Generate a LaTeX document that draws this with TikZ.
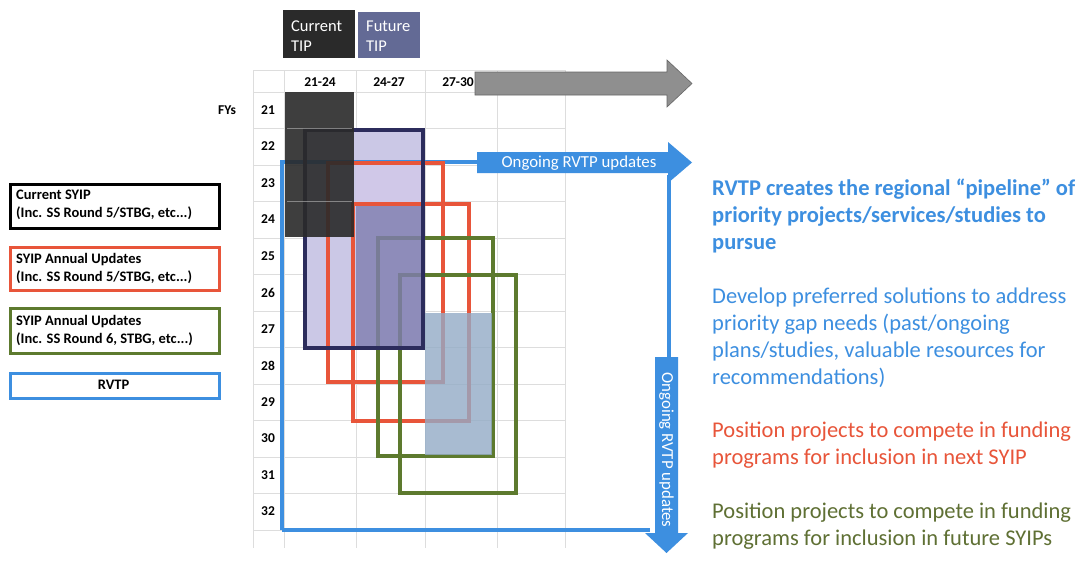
\documentclass[tikz,border=0pt]{standalone}
\usepackage{fontspec}
\setmainfont{Carlito}
\definecolor{gridc}{HTML}{DDDDDD}
\definecolor{darkc}{HTML}{2A2A2A}
\definecolor{futc}{HTML}{636A95}
\definecolor{navyc}{HTML}{2C2C5C}
\definecolor{lavc}{HTML}{CBC8E6}
\definecolor{lavb}{HTML}{D0C8E8}
\definecolor{purc}{HTML}{7F7DB0}
\definecolor{redc}{HTML}{E8553A}
\definecolor{greenc}{HTML}{5D7A2E}
\definecolor{steelc}{HTML}{93ABC6}
\definecolor{bluec}{HTML}{3D8FE0}
\definecolor{grayc}{HTML}{8F8F8F}
\definecolor{greentxt}{HTML}{5F7034}
\tikzset{
  gridline/.style={draw=gridc, line width=0.7pt},
  redbox/.style={draw=redc, line width=3.2pt},
  greenbox/.style={draw=greenc, line width=3.2pt},
  bluepath/.style={draw=bluec, line width=3.2pt},
  legendbox/.style={line width=2.8pt, fill=white, minimum width=209pt, inner sep=0pt, anchor=north west},
  legtext/.style={font=\bfseries\fontsize{14.5}{18}\selectfont, align=left, anchor=north west, inner sep=0pt},
  axislab/.style={font=\bfseries\fontsize{13.5}{14}\selectfont, inner sep=0pt},
  bodytext/.style={font=\fontsize{22.5}{27}\selectfont, align=left, anchor=north west, inner sep=0pt},
  tiptext/.style={font=\fontsize{16.5}{20}\selectfont, text=white, align=left, anchor=north west, inner sep=0pt},
  arrowtext/.style={font=\fontsize{16.8}{18}\selectfont, text=white, inner sep=0pt},
}
\begin{document}
\begin{tikzpicture}[x=1pt,y=-1pt]
\useasboundingbox (0,0) rectangle (1083,565);
\fill[white] (0,0) rectangle (1083,565);

% grid
\foreach \y in {70,92,128.5,165,201.5,238,274.5,311,347.5,384,420.5,457,493.5,530}
  \draw[gridline] (253,\y) -- (565,\y);
\foreach \x in {253,284,356,425,497,565}
  \draw[gridline] (\x,70) -- (\x,548);

% TIP header boxes
\fill[darkc] (283,10) rectangle (355,58);
\fill[futc] (358,12) rectangle (420,58);
\node[tiptext] (curtip) at (291,20.5) {Current\\TIP};
\node[tiptext] (futtip) at (366,20.5) {Future\\TIP};

% column and row labels
\node[axislab] (c1) at (320,82) {21-24};
\node[axislab] (c2) at (389,82) {24-27};
\node[axislab] (c3) at (458,82) {27-30};
\node[axislab] (fys) at (227,110) {FYs};
\foreach \n [count=\i from 0] in {21,...,32}
  \node[axislab] (r\n) at (268,{110+36.5*\i}) {\n};

% gray timeline arrow
\fill[grayc, draw=gray!80!black, line width=0.6pt] (475,72) -- (667,72) -- (667,60) -- (692,83.5) -- (667,107) -- (667,95) -- (475,95) -- cycle;

% future TIP area
\fill[lavc] (305,130) rectangle (423,348);
\fill[lavb] (356,163) rectangle (423,202);

% blue RVTP frame
\draw[bluepath] (282,530) -- (282,162) -- (480,162);
\draw[bluepath] (282,530) -- (650,530);
\draw[bluepath] (669,175) -- (669,360);

% SYIP annual update boxes
\draw[redbox] (328,163) rectangle (443,382);
\draw[redbox] (353,204) rectangle (469,421);
\draw[greenbox] (378,238) rectangle (493,456);
\draw[greenbox] (400,275) rectangle (516,493);

% overlays
\fill[purc, opacity=0.8] (356,206) rectangle (423,348);
\fill[steelc, opacity=0.8] (425,313) rectangle (492,455);
\draw[navyc, line width=3.5pt] (305,130) rectangle (423,348);
\fill[darkc, opacity=0.9] (285,92) rectangle (354,237);
\draw[gridc!60!gray, line width=0.6pt, opacity=0.6] (287,128.5) -- (352,128.5) (287,201.5) -- (352,201.5);

% blue arrows
\fill[bluec] (477,152) -- (668,152) -- (668,142) -- (692,162.5) -- (668,183) -- (668,173) -- (477,173) -- cycle;
\node[arrowtext] (rvtpA) at (579,163) {Ongoing RVTP updates};
\fill[bluec] (655,357) -- (678,357) -- (678,533) -- (688,533) -- (666.5,553) -- (645,533) -- (655,533) -- cycle;
\node[arrowtext, rotate=-90] (rvtpB) at (666.5,450) {Ongoing RVTP updates};

% legend
\node[legendbox, draw=black, minimum height=44pt] (lg1) at (9,183) {};
\node[legtext] (lt1) at (16,190) {Current SYIP\\(Inc. SS Round 5/STBG, etc...)};
\node[legendbox, draw=redc, minimum height=43pt] (lg2) at (9,246) {};
\node[legtext] (lt2) at (16,253) {SYIP Annual Updates\\(Inc. SS Round 5/STBG, etc...)};
\node[legendbox, draw=greenc, minimum height=45pt] (lg3) at (9,307) {};
\node[legtext] (lt3) at (16,315) {SYIP Annual Updates\\(Inc. SS Round 6, STBG, etc...)};
\node[legendbox, draw=bluec, minimum height=25pt] (lg4) at (9,372) {};
\node[font=\bfseries\fontsize{14.5}{16}\selectfont, inner sep=0pt] (lt4) at (113.5,384.5) {RVTP};

% right-hand text
\node[bodytext, font=\bfseries\fontsize{22.5}{27}\selectfont, text=bluec] (p1) at (712,179) {RVTP creates the regional “pipeline” of\\priority projects/services/studies to\\pursue};
\node[bodytext, text=bluec] (p2) at (712,288) {Develop preferred solutions to address\\priority gap needs (past/ongoing\\plans/studies, valuable resources for\\recommendations)};
\node[bodytext, text=redc] (p3) at (712,422) {Position projects to compete in funding\\programs for inclusion in next SYIP};
\node[bodytext, text=greentxt] (p4) at (712,503) {Position projects to compete in funding\\programs for inclusion in future SYIPs};
\end{tikzpicture}
\end{document}
